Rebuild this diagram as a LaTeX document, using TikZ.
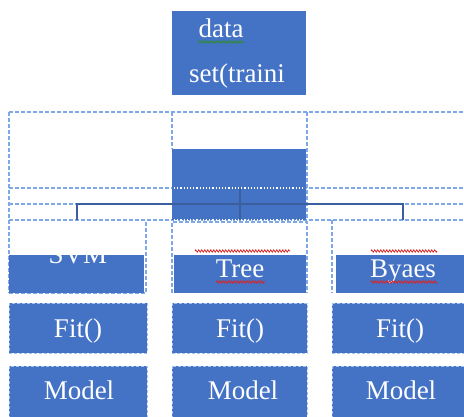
\documentclass[tikz,border=0pt]{standalone}
\usepackage{fontspec}
\setmainfont{Liberation Serif}
\usetikzlibrary{decorations.pathmorphing}
\definecolor{boxblue}{HTML}{4472C4}
\definecolor{gridblue}{HTML}{7FA8E8}
\definecolor{linkblue}{HTML}{3A5E9E}
\definecolor{spellred}{HTML}{E02020}
\definecolor{spellgreen}{HTML}{2E8B2E}
\tikzset{
  x=1pt, y=-1pt,
  bluebox/.style={fill=boxblue, draw=gridblue!70!white, densely dashed, line width=0.6pt},
  gridline/.style={draw=gridblue, dash pattern=on 4pt off 2pt, line width=1.2pt},
  label/.style={text=white, font=\fontsize{27}{31}\selectfont, inner sep=0pt, anchor=base},
  link/.style={draw=linkblue, line width=1.6pt},
  squiggle/.style={decorate, decoration={zigzag, amplitude=1.1pt, segment length=3pt}, line width=0.8pt}
}
\begin{document}
\begin{tikzpicture}
\useasboundingbox (0,0) rectangle (464,416);

% training data box
\path[fill=boxblue] (172,11) rectangle (306,95);
\node[label] (data) at (221,37) {data};
\node[label] (set) at (237,82) {set(traini};
\draw[squiggle, spellgreen] (198,42) -- (244,42);

% dashed layout grid around the splitting step
\draw[gridline] (9,112) -- (464,112);
\draw[gridline] (9,188) -- (464,188);
\draw[gridline] (9,204) -- (464,204);
\draw[gridline] (9,220) -- (464,220);
\draw[gridline] (9,112) -- (9,293);
\draw[gridline] (172,112) -- (172,149);
\draw[gridline] (307,112) -- (307,220);

% splitting step box
\path[fill=boxblue] (172,149) rectangle (306,220);
\draw[white, dotted, line width=1.2pt] (174,188) -- (304,188);
\draw[white, dotted, line width=1.2pt] (174,220) -- (304,220);

% branch connector
\coordinate (hubtop) at (240,188);
\coordinate (hubbot) at (240,220);
\coordinate (hubmid) at (240,204);
\coordinate (legL) at (77,220);
\coordinate (legR) at (403,220);
\draw[link] (hubtop) -- (hubbot);
\draw[link] (legL) |- (hubmid) -| (legR);

% classifier row
\draw[gridline] (9,293) -- (146,293) -- (146,220);
\draw[gridline] (172,293) -- (172,222) -- (307,222) -- (307,293);
\draw[gridline] (332,220) -- (332,293);
\path[fill=boxblue] (9,255) rectangle (144,293);
\path[fill=boxblue] (174,255) rectangle (306,293);
\path[fill=boxblue] (336,255) rectangle (464,293);
\begin{scope}
  \clip (9,255) rectangle (144,293);
  \node[label] (svm) at (78,263) {SVM};
\end{scope}
\node[label] (tree) at (240,277) {Tree};
\node[label] (byaes) at (403,277) {Byaes};
\draw[squiggle, spellred] (195,251) -- (290,251);
\draw[squiggle, spellred] (216,282) -- (265,282);
\draw[squiggle, spellred] (371,251) -- (437,251);
\draw[squiggle, spellred] (371,282) -- (437,282);

% fit row
\path[bluebox] (9,303) rectangle (147,353);
\path[bluebox] (172,303) rectangle (307,353);
\path[bluebox] (332,303) rectangle (466,353);
\node[label] (fitA) at (78,337) {Fit()};
\node[label] (fitB) at (240,337) {Fit()};
\node[label] (fitC) at (400,337) {Fit()};

% model row
\path[bluebox] (9,366) rectangle (147,418);
\path[bluebox] (172,366) rectangle (307,418);
\path[bluebox] (332,366) rectangle (466,418);
\node[label] (modelA) at (79,399) {Model};
\node[label] (modelB) at (243,399) {Model};
\node[label] (modelC) at (401,399) {Model};
\end{tikzpicture}
\end{document}
